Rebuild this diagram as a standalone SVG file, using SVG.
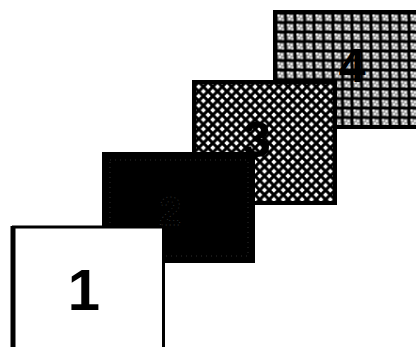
<svg xmlns="http://www.w3.org/2000/svg" width="416" height="347" viewBox="0 0 416 347">
<style>
.lbl{font-family:"Liberation Sans",Arial,sans-serif;font-weight:bold;fill:#000;text-anchor:middle}
.frame{stroke:#000;stroke-width:4}
</style>
<defs>
<pattern id="grid" x="276" y="13" width="9.5" height="9.5" patternUnits="userSpaceOnUse">
<rect width="9.5" height="9.5" fill="#000"/>
<rect x="1.5" y="1.5" width="6.5" height="6.5" fill="#999"/>
<rect x="1.5" y="1.5" width="2" height="2" fill="#fff"/>
<rect x="5" y="2.5" width="2" height="2" fill="#fff"/>
<rect x="3" y="5" width="2" height="2" fill="#fff"/>
<rect x="6" y="6" width="2" height="2" fill="#ddd"/>
</pattern>
<pattern id="diam" x="194" y="82" width="9.4" height="9.4" patternUnits="userSpaceOnUse">
<rect width="9.4" height="9.4" fill="#000"/>
<g fill="#fff">
<path d="M0 -2.6 L2.6 0 L0 2.6 L-2.6 0 Z"/>
<path d="M9.4 -2.6 L12 0 L9.4 2.6 L6.8 0 Z"/>
<path d="M4.7 2.1 L7.3 4.7 L4.7 7.3 L2.1 4.7 Z"/>
<path d="M0 6.8 L2.6 9.4 L0 12 L-2.6 9.4 Z"/>
<path d="M9.4 6.8 L12 9.4 L9.4 12 L6.8 9.4 Z"/>
</g>
</pattern>
</defs>
<rect width="416" height="347" fill="#fff"/>
<g id="node4">
<rect class="frame" x="275" y="12" width="145" height="115" fill="url(#grid)"/>
<text class="lbl" x="352" y="82" font-size="48">4</text>
</g>
<g id="node3">
<rect class="frame" x="194" y="82" width="141" height="121" fill="url(#diam)"/>
<text class="lbl" x="257" y="157" font-size="50">3</text>
</g>
<g id="node2">
<rect x="102" y="152" width="153" height="111" fill="#000"/>
<rect x="110" y="160" width="138" height="96" fill="none" stroke="#3a3a3a" stroke-width="0.8" stroke-dasharray="1 4"/>
<text class="lbl" x="170" y="225" font-size="40" stroke="#3a3a3a" stroke-width="0.8" stroke-dasharray="1 3">2</text>
</g>
<g id="node1">
<rect x="13.5" y="227" width="150" height="122" fill="#fff" stroke="#000" stroke-width="3"/>
<line x1="13" y1="226" x2="13" y2="347" stroke="#000" stroke-width="5"/>
<text class="lbl" x="84" y="310" font-size="58">1</text>
</g>
<g id="connectors"/>
</svg>
